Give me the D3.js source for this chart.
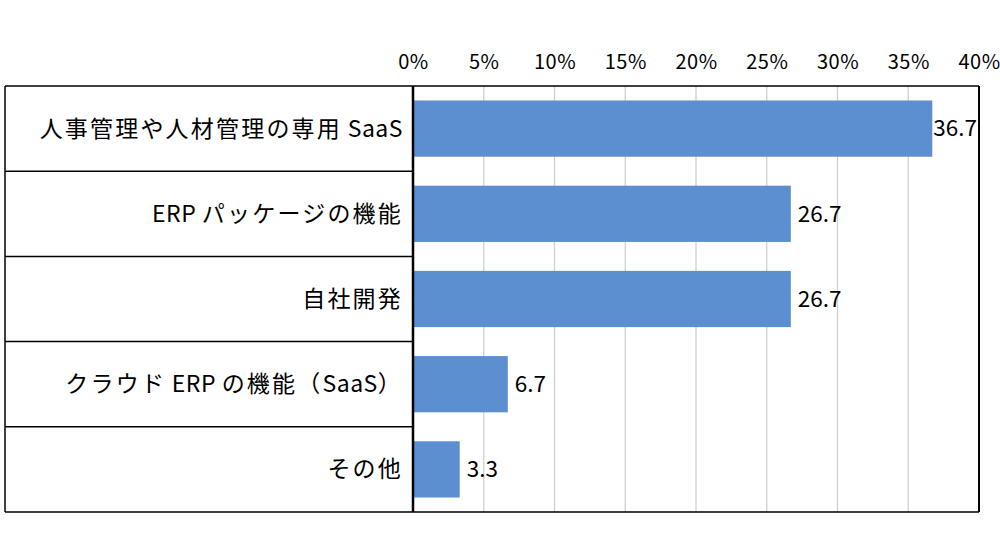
<!DOCTYPE html>
<html>
<head>
<meta charset="utf-8">
<script src="https://cdn.jsdelivr.net/npm/d3@7"></script>
<style>
  body { margin: 0; background: #fff; }
  text { font-family: "Noto Sans CJK JP", "Noto Sans", sans-serif; fill: #000; }
</style>
</head>
<body>
<svg id="chart" width="1000" height="559"></svg>
<script>
// data
const categories = [
  "人事管理や人材管理の専用 SaaS",
  "ERP パッケージの機能",
  "自社開発",
  "クラウド ERP の機能（SaaS）",
  "その他"
];
const values = [36.7, 26.7, 26.7, 6.7, 3.3];
const tickValues = [0, 5, 10, 15, 20, 25, 30, 35, 40];

const svg = d3.select("#chart");

// layout
const boxLeft = 5, plotLeft = 413, plotRight = 979;
const plotTop = 86, plotBottom = 512;

const x = d3.scaleLinear().domain([0, 40]).range([plotLeft, plotRight]);
const y = d3.scaleBand().domain(categories).range([plotTop, plotBottom]).paddingInner(0.34).paddingOuter(0.17);
const rows = d3.scaleBand().domain(categories).range([plotTop, plotBottom]);

// gridlines
svg.append("g")
  .selectAll("line")
  .data(tickValues.filter(t => t > 0 && t < 40))
  .join("line")
  .attr("x1", d => x(d)).attr("x2", d => x(d))
  .attr("y1", plotTop).attr("y2", plotBottom)
  .attr("stroke", "#d0d0d0").attr("stroke-width", 1.3);

// top axis labels
const xAxis = d3.axisTop(x).tickValues(tickValues).tickFormat(d => d + "%").tickSize(0).tickPadding(0);
const ax = svg.append("g").attr("transform", `translate(0, 69)`).call(xAxis);
ax.select(".domain").remove();
ax.selectAll("text").attr("font-size", 20).attr("letter-spacing", 0.5)
  .style("font-family", "'Noto Sans CJK JP', sans-serif");

// bars
svg.append("g")
  .selectAll("rect")
  .data(values)
  .join("rect")
  .attr("x", x(0))
  .attr("y", (d, i) => y(categories[i]))
  .attr("width", d => x(d) - x(0))
  .attr("height", y.bandwidth())
  .attr("fill", "#5b8fd0");

// value labels
svg.append("g")
  .selectAll("text")
  .data(values)
  .join("text")
  .attr("y", (d, i) => y(categories[i]) + y.bandwidth() / 2)
  .attr("dy", "0.35em")
  .attr("font-size", 22.5)
  .text(d => d.toFixed(1))
  .each(function (d) {
    const w = this.getComputedTextLength();
    let px = x(d) + 7;
    if (px + w > plotRight - 1) px = x(d) + 1;
    d3.select(this).attr("x", px);
  });

// category labels (table on the left), extra spacing only between Japanese glyphs
svg.append("g")
  .selectAll("text")
  .data(categories)
  .join("text")
  .attr("x", plotLeft - 10)
  .attr("y", d => rows(d) + rows.bandwidth() / 2)
  .attr("dy", "0.35em")
  .attr("text-anchor", "end")
  .attr("font-size", 23)
  .each(function (d) {
    const parts = d.match(/[A-Za-z ]+|[^A-Za-z ]+/g);
    d3.select(this).selectAll("tspan")
      .data(parts)
      .join("tspan")
      .attr("letter-spacing", p => /[A-Za-z]/.test(p) ? 0.5 : 2.2)
      .text(p => p);
  });

// row separators in left table
svg.append("g")
  .selectAll("line")
  .data(categories.slice(1))
  .join("line")
  .attr("x1", boxLeft).attr("x2", plotLeft)
  .attr("y1", d => rows(d)).attr("y2", d => rows(d))
  .attr("stroke", "#000").attr("stroke-width", 1.5);

// frame
const frame = svg.append("g").attr("stroke", "#000").attr("fill", "none");
frame.append("line").attr("x1", boxLeft).attr("x2", plotRight).attr("y1", plotTop).attr("y2", plotTop).attr("stroke-width", 1.5);
frame.append("line").attr("x1", boxLeft).attr("x2", plotRight).attr("y1", plotBottom).attr("y2", plotBottom).attr("stroke-width", 1.5);
frame.append("line").attr("x1", boxLeft).attr("x2", boxLeft).attr("y1", plotTop).attr("y2", plotBottom).attr("stroke-width", 1.5);
frame.append("line").attr("x1", plotRight).attr("x2", plotRight).attr("y1", plotTop).attr("y2", plotBottom).attr("stroke-width", 2);
frame.append("line").attr("x1", plotLeft).attr("x2", plotLeft).attr("y1", plotTop).attr("y2", plotBottom).attr("stroke-width", 2.5);
</script>
</body>
</html>
